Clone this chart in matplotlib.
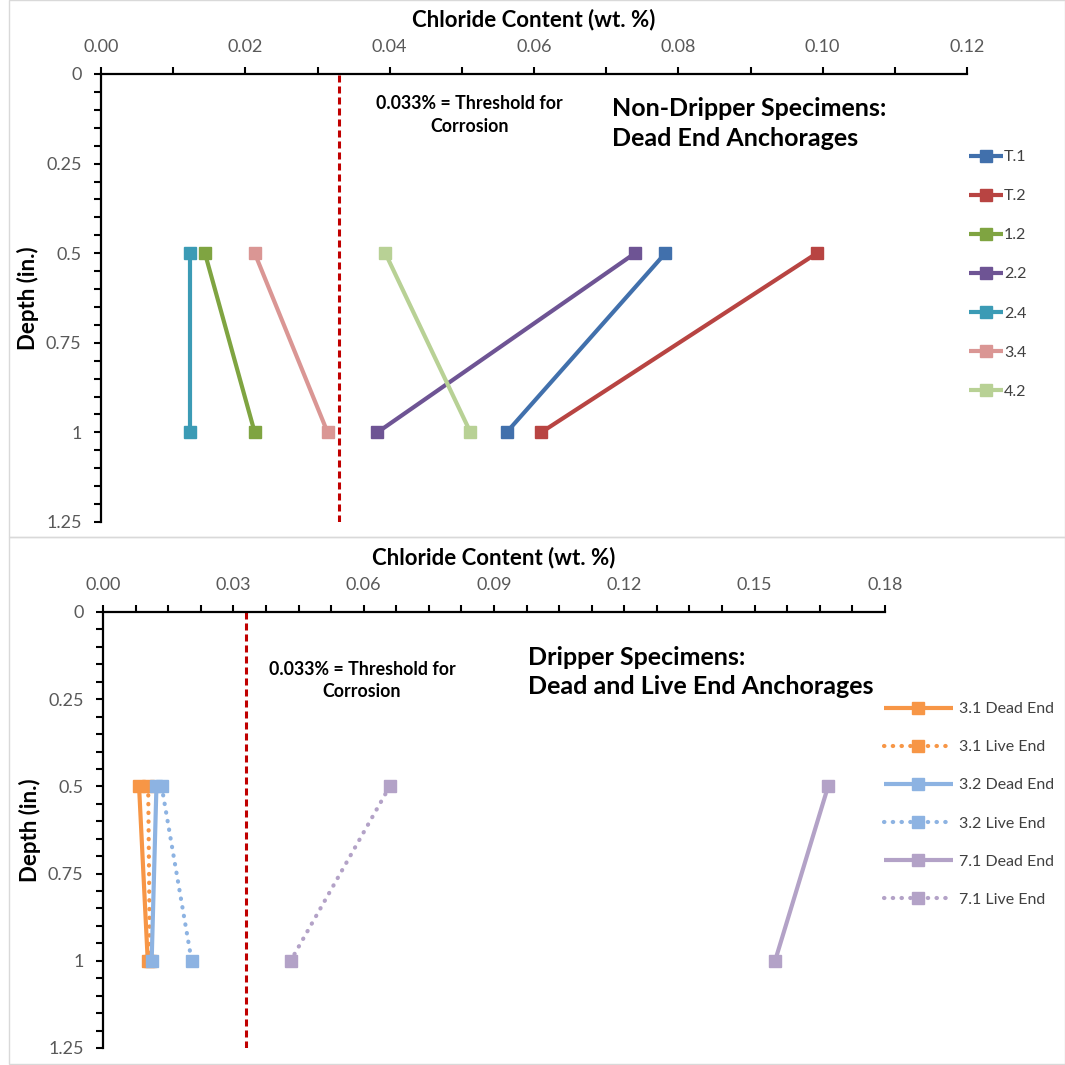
import matplotlib
matplotlib.use("Agg")
import matplotlib.pyplot as plt
from matplotlib.patches import Rectangle
from matplotlib.ticker import MultipleLocator, FuncFormatter

plt.rcParams['font.family'] = ['Lato', 'DejaVu Sans']

depth = [0.5, 1.0]

# non-dripper specimens, dead end anchorages
top_labels = ['T.1', 'T.2', '1.2', '2.2', '2.4', '3.4', '4.2']
top_values = [
    [0.0782, 0.0562],
    [0.0992, 0.0610],
    [0.0144, 0.0213],
    [0.0740, 0.0383],
    [0.0123, 0.0123],
    [0.0213, 0.0314],
    [0.0394, 0.0512],
]
top_colors = ['#4170AC', '#B84442', '#7FA441', '#6E5494', '#3B9BB5', '#DA9694', '#B8D195']

# dripper specimens, dead and live end anchorages
bot_labels = ['3.1 Dead End', '3.1 Live End', '3.2 Dead End', '3.2 Live End',
              '7.1 Dead End', '7.1 Live End']
bot_values = [
    [0.0083, 0.0103],
    [0.0104, 0.0108],
    [0.0123, 0.0112],
    [0.0135, 0.0204],
    [0.1669, 0.1547],
    [0.0660, 0.0432],
]
bot_colors = ['#F79646', '#F79646', '#8DB3E2', '#8DB3E2', '#B3A2C7', '#B3A2C7']
bot_dotted = [False, True, False, True, False, True]

threshold = 0.033

W = H = 1065
fig = plt.figure(figsize=(W / 100, H / 100), dpi=100)


def px_axes(l, t, r, b):
    return fig.add_axes([l / W, 1 - b / H, (r - l) / W, (b - t) / H])


# panel frames
for y0, y1 in [(0, 537), (537, 1064)]:
    fig.patches.append(Rectangle((9 / W, 1 - y1 / H), (W - 9) / W, (y1 - y0) / H,
                                 transform=fig.transFigure, fill=False,
                                 edgecolor='#D9D9D9', linewidth=1))


def style_axes(ax, xmax, xmajor, xminor):
    ax.set_xlim(0, xmax)
    ax.set_ylim(1.25, 0)
    ax.xaxis.tick_top()
    ax.xaxis.set_label_position('top')
    for s in ['right', 'bottom']:
        ax.spines[s].set_visible(False)
    for s in ['left', 'top']:
        ax.spines[s].set_linewidth(1.6)
        ax.spines[s].set_color('black')
    ax.xaxis.set_major_locator(MultipleLocator(xmajor))
    ax.xaxis.set_minor_locator(MultipleLocator(xminor))
    ax.yaxis.set_major_locator(MultipleLocator(0.25))
    ax.yaxis.set_minor_locator(MultipleLocator(0.05))
    ax.xaxis.set_major_formatter(FuncFormatter(lambda v, p: f'{v:.2f}'))
    ax.yaxis.set_major_formatter(FuncFormatter(lambda v, p: f'{v:g}'))
    ax.tick_params(which='both', direction='out', length=5, width=1.5,
                   color='black', labelsize=13, labelcolor='#595959', pad=9)
    ax.tick_params(axis='x', which='both', top=True, bottom=False)
    ax.set_xlabel('Chloride Content (wt. %)', fontsize=16, fontweight='bold', labelpad=9)
    ax.set_ylabel('Depth (in.)', fontsize=16, fontweight='bold', labelpad=5)
    ax.axvline(threshold, color='#C00000', linewidth=2.2, linestyle=(0, (2.3, 1.3)), zorder=1)


# top panel
ax1 = px_axes(101, 74, 967, 522)
style_axes(ax1, 0.12, 0.02, 0.01)
for lab, vals, c in zip(top_labels, top_values, top_colors):
    ax1.plot(vals, depth, color=c, linewidth=3, marker='s', markersize=9,
             label=lab, solid_capstyle='butt')
ax1.text(0.0511, 0.114, '0.033% = Threshold for\nCorrosion', ha='center', va='center',
         fontsize=12.8, fontweight='bold', color='black', linespacing=1.4)
ax1.text(0.0708, 0.138, 'Non-Dripper Specimens:\nDead End Anchorages', ha='left', va='center',
         fontsize=18, fontweight='bold', color='black', linespacing=1.4)
ax1.legend(loc='upper left', bbox_to_anchor=(969 / W, 1 - 150 / H),
           bbox_transform=fig.transFigure, frameon=False, fontsize=11.5,
           handlelength=2.1, handletextpad=0.1, labelspacing=1.56, borderpad=0,
           borderaxespad=0, labelcolor='#404040')

# bottom panel
ax2 = px_axes(103, 612, 885, 1048)
style_axes(ax2, 0.18, 0.03, 0.0075)
for lab, vals, c, dot in zip(bot_labels, bot_values, bot_colors, bot_dotted):
    ls = (0, (0.1, 2.0)) if dot else '-'
    ax2.plot(vals, depth, color=c, linewidth=3, marker='s', markersize=9,
             label=lab, linestyle=ls, dash_capstyle='round', solid_capstyle='butt')
ax2.text(0.0596, 0.196, '0.033% = Threshold for\nCorrosion', ha='center', va='center',
         fontsize=12.8, fontweight='bold', color='black', linespacing=1.4)
ax2.text(0.0978, 0.172, 'Dripper Specimens:\nDead and Live End Anchorages', ha='left', va='center',
         fontsize=18, fontweight='bold', color='black', linespacing=1.35)
ax2.legend(loc='upper left', bbox_to_anchor=(884 / W, 1 - 702 / H),
           bbox_transform=fig.transFigure, frameon=False, fontsize=11.5,
           handlelength=4.3, handletextpad=0.4, labelspacing=1.5, borderpad=0,
           borderaxespad=0, labelcolor='#404040')

fig.savefig('out.png', dpi=100)
